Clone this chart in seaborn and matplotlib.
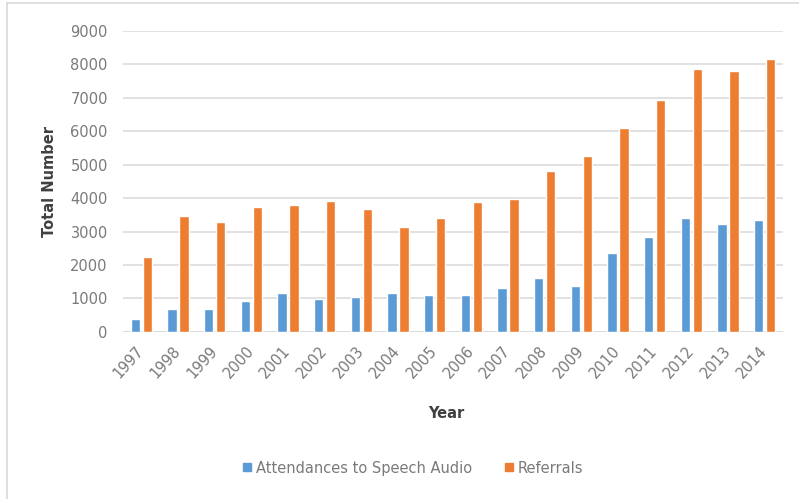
import matplotlib
matplotlib.use("Agg")
import matplotlib.pyplot as plt
import seaborn as sns
import pandas as pd
from matplotlib.lines import Line2D

years = ["1997", "1998", "1999", "2000", "2001", "2002", "2003", "2004", "2005",
         "2006", "2007", "2008", "2009", "2010", "2011", "2012", "2013", "2014"]
attendances = [380, 690, 680, 935, 1175, 995, 1055, 1175, 1105,
               1105, 1300, 1600, 1370, 2350, 2845, 3390, 3215, 3340]
referrals = [2240, 3470, 3290, 3720, 3780, 3900, 3660, 3150, 3390,
             3890, 3960, 4820, 5250, 6110, 6925, 7850, 7800, 8150]
series_names = ["Attendances to Speech Audio", "Referrals"]
y_ticks = [0, 1000, 2000, 3000, 4000, 5000, 6000, 7000, 8000, 9000]

df = pd.DataFrame({
    "Year": years * 2,
    "Value": attendances + referrals,
    "Series": [series_names[0]] * len(years) + [series_names[1]] * len(years),
})

sns.set_theme(style="white")
plt.rcParams["font.family"] = ["DejaVu Sans"]

blue = "#5B9BD5"
orange = "#ED7D31"
text_grey = "#7a7a7a"

fig = plt.figure(figsize=(7.99, 4.99), dpi=100)
ax = fig.add_axes([0.154, 0.335, 0.826, 0.603])

sns.barplot(data=df, x="Year", y="Value", hue="Series", order=years,
            hue_order=series_names, palette=[blue, orange],
            width=0.66, gap=0.24, ax=ax, legend=False, saturation=1)

ax.set_ylim(0, 9000)
ax.set_yticks(y_ticks)
ax.set_yticklabels([str(v) for v in y_ticks])
ax.set_xlim(-0.5, len(years) - 0.5)
ax.grid(axis="y", color="#d9d9d9", linewidth=1.1)
ax.set_axisbelow(True)
for side in ["top", "right", "left", "bottom"]:
    ax.spines[side].set_visible(False)
ax.axhline(0, color="#d9d9d9", linewidth=1.1, zorder=0)

ax.tick_params(axis="y", length=0, pad=11, labelsize=10.5, labelcolor=text_grey)
ax.tick_params(axis="x", length=0, pad=12, labelsize=10.5, labelcolor=text_grey)
for lbl in ax.get_xticklabels():
    lbl.set_rotation(48)
    lbl.set_ha("right")
    lbl.set_rotation_mode("anchor")
    lbl.set_va("center")

ax.set_xlabel("Year", fontsize=10.5, fontweight="bold", color="#404040")
ax.set_ylabel("Total Number", fontsize=10.5, fontweight="bold", color="#404040")
ax.xaxis.set_label_coords(0.49, -0.245)
ax.yaxis.set_label_coords(-0.1, 0.5)

handles = [Line2D([0], [0], marker="s", linestyle="", markersize=6,
                  markerfacecolor=c, markeredgecolor=c) for c in (blue, orange)]
fig.legend(handles, series_names, loc="center", bbox_to_anchor=(0.517, 0.062),
           ncol=2, frameon=False, fontsize=10.5, handlelength=0.6,
           handletextpad=0.3, columnspacing=2.2, labelcolor=text_grey)

# chart frame along the top and left edges
fig.add_artist(Line2D([7 / 799, 1.0], [1 - 3 / 499, 1 - 3 / 499],
                      transform=fig.transFigure, color="#d9d9d9", linewidth=1.2))
fig.add_artist(Line2D([7 / 799, 7 / 799], [0.0, 1 - 3 / 499],
                      transform=fig.transFigure, color="#d9d9d9", linewidth=1.2))

fig.savefig("out.png", dpi=100, facecolor="white")
